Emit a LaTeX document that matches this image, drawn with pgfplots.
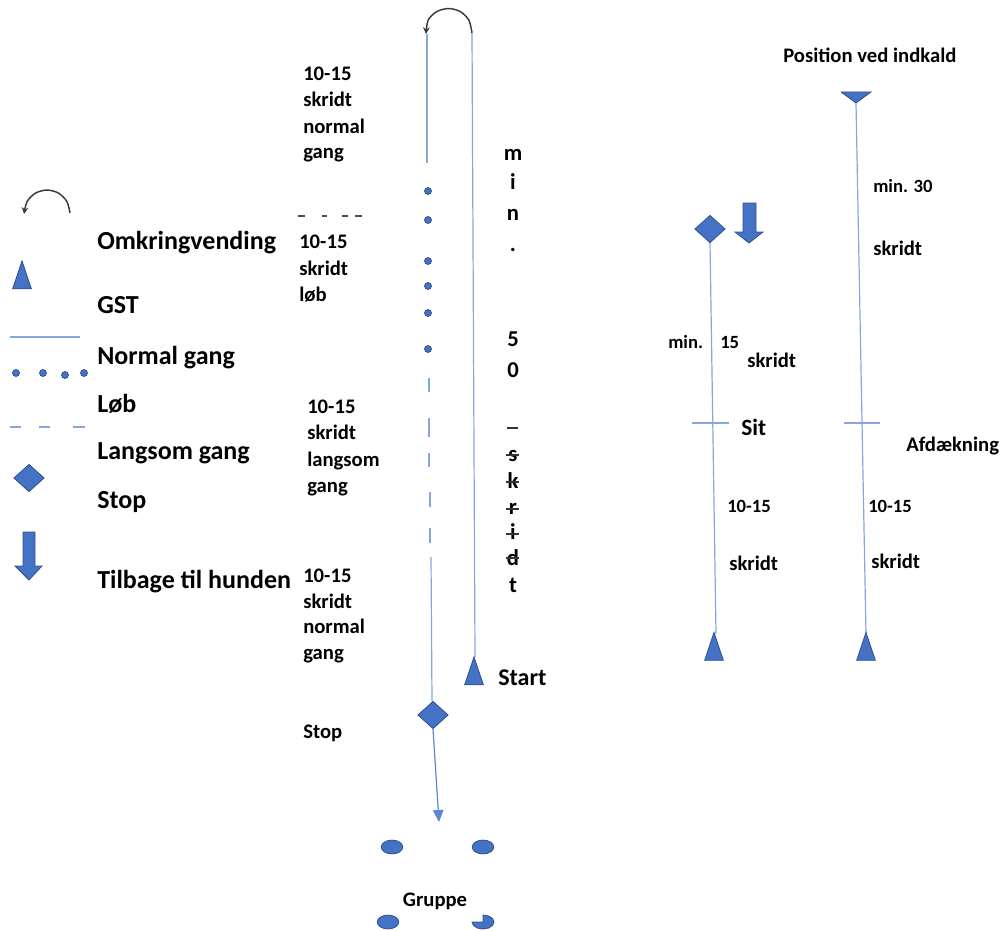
\documentclass[border=0pt]{standalone}
\usepackage{fontspec}
\setmainfont{Carlito}
\usepackage{pgfplots}
\pgfplotsset{compat=1.18}
\usetikzlibrary{arrows.meta}

\definecolor{shapefill}{HTML}{4472C4}
\definecolor{shapeedge}{HTML}{2F528F}
\definecolor{pathline}{HTML}{86A6DE}
\definecolor{arrowline}{HTML}{5B86D6}
\definecolor{turnline}{HTML}{3A3A3A}

\tikzset{
  big/.style={anchor=base west,inner sep=0pt,font=\bfseries\fontsize{19.5}{23}\selectfont},
  mid/.style={anchor=base west,inner sep=0pt,font=\bfseries\fontsize{15.5}{19}\selectfont},
  sml/.style={anchor=base west,inner sep=0pt,font=\bfseries\fontsize{14}{17}\selectfont},
  vert/.style={anchor=base,inner sep=0pt,font=\bfseries\fontsize{17}{20}\selectfont},
}
\pgfplotsset{
  gst/.style={only marks,mark=triangle*,mark size=8.1pt,
    mark options={yscale=1.72,fill=shapefill,draw=shapeedge,line width=0.6pt}},
  stopmark/.style={only marks,mark=square*,mark size=8pt,
    mark options={yscale=0.9,rotate=45,fill=shapefill,draw=shapeedge,line width=0.6pt}},
  runmark/.style={only marks,mark=*,mark size=2.6pt,
    mark options={fill=shapefill,draw=shapeedge,line width=0.6pt}},
  blob/.style={only marks,mark=*,mark size=5.2pt,
    mark options={xscale=1.55,fill=shapefill,draw=shapeedge,line width=0.6pt}},
  blockarrow/.style={fill=shapefill,draw=shapeedge,line width=0.6pt},
  walk/.style={color=pathline,line width=0.9pt},
}

\begin{document}
\begin{tikzpicture}
\begin{axis}[
  width=752.25pt, height=698.25pt, scale only axis,
  xmin=0, xmax=1003, ymin=0, ymax=931, y dir=reverse,
  hide axis, clip=false, unbounded coords=jump]

% keep the whole canvas in the bounding box
\addplot[draw=none] coordinates {(0,0) (1003,931)};

% ---------- legend ----------
\addplot[color=turnline,line width=1.1pt,smooth,-{Stealth[length=5pt,width=5pt]}] coordinates {
 (70,213) (66.9,201.5) (58.5,193.1) (47,190) (35.5,193.1) (27.1,201.5) (24,214)};
\node[big] at (axis cs:97,249) {Omkringvending};

\addplot[gst] coordinates {(22,279.5)};
\node[big] at (axis cs:97,313) {GST};

\addplot[walk] coordinates {(10,337) (80,337)};
\node[big] at (axis cs:97,364) {Normal gang};

\addplot[runmark] coordinates {(16,373) (43,373) (65,375) (84,373)};
\node[big] at (axis cs:97,412) {Løb};

\addplot[walk] coordinates {(10,427) (21,427) (nan,nan) (39,427) (50,427) (nan,nan) (73,427) (85,427)};
\node[big] at (axis cs:97,459) {Langsom gang};

\addplot[stopmark] coordinates {(29,478)};
\node[big] at (axis cs:97,508) {Stop};

\addplot[blockarrow] coordinates {(23,532) (35,532) (35,566) (42,566) (29,580) (15,566) (23,566) (23,532)};
\node[big] at (axis cs:97,588) {Tilbage til hunden};

% ---------- centre exercise ----------
\addplot[color=turnline,line width=1.1pt,smooth,-{Stealth[length=5pt,width=5pt]}] coordinates {
 (472,33) (468.9,20.2) (460.3,11.6) (448.5,8.5) (436.7,11.6) (428.1,20.2) (426,34)};
\addplot[walk] coordinates {(427,34) (427,163)};
\addplot[walk] coordinates {(472,33) (475,657)};
\addplot[runmark] coordinates {(428,191) (428,220) (428,261) (428,286) (428,313) (428,349)};
\addplot[walk,line width=0.8pt] coordinates {
 (429,378) (429,392) (nan,nan) (429,418) (429,437) (nan,nan) (429,453) (429,467)
 (nan,nan) (430,492) (430,507) (nan,nan) (430,528) (430,543)};
\addplot[walk] coordinates {(431,557) (432,701)};
\addplot[stopmark] coordinates {(433,715)};
\addplot[color=arrowline,line width=0.9pt,-{Triangle[length=9pt,width=8pt]}] coordinates {(433,729) (439,822)};
\addplot[gst] coordinates {(474,675.5)};
\addplot[blob] coordinates {(392,847) (483,847) (388,922)};
\addplot[fill=shapefill,draw=shapeedge,line width=0.6pt] coordinates {
 (483,922) (483,915) (488.5,915.9) (492.5,918.5) (494,922) (492.5,925.5)
 (488.5,928.1) (483,929) (477.5,928.1) (473.5,925.5) (472,922) (483,922)};

% clipped remains of a hidden label
\addplot[color=black!70,line width=0.8pt] coordinates {
 (298,216) (305,216) (nan,nan) (322,216) (327,216) (nan,nan) (342,216) (348,216) (nan,nan) (355,216) (362,216)};

\node[mid] at (axis cs:303,81) {10-15};
\node[mid] at (axis cs:303,107) {skridt};
\node[mid] at (axis cs:303,133) {normal};
\node[mid] at (axis cs:303,158) {gang};

\node[mid] at (axis cs:299,248) {10-15};
\node[mid] at (axis cs:299,275) {skridt};
\node[mid] at (axis cs:299,301) {løb};

\node[mid] at (axis cs:307,413) {10-15};
\node[mid] at (axis cs:307,439) {skridt};
\node[mid] at (axis cs:307,466) {langsom};
\node[mid] at (axis cs:307,492) {gang};

\node[mid] at (axis cs:303,582) {10-15};
\node[mid] at (axis cs:303,608) {skridt};
\node[mid] at (axis cs:303,633) {normal};
\node[mid] at (axis cs:303,659) {gang};

\node[mid] at (axis cs:303,738) {Stop};
\node[big,font=\bfseries\fontsize{18}{21}\selectfont] at (axis cs:498,685) {Start};
\node[mid,anchor=base] at (axis cs:435,906) {Gruppe};

\node[vert] at (axis cs:513,160) {m};
\node[vert] at (axis cs:513,189) {i};
\node[vert] at (axis cs:513,220) {n};
\node[vert] at (axis cs:513,251) {.};
\node[vert] at (axis cs:513,346) {5};
\node[vert] at (axis cs:513,377) {0};
\node[vert] at (axis cs:513,461) {s};
\node[vert] at (axis cs:513,488) {k};
\node[vert] at (axis cs:513,514) {r};
\node[vert] at (axis cs:513,539) {i};
\node[vert] at (axis cs:513,565) {d};
\node[vert] at (axis cs:513,592) {t};
\addplot[color=black!80,line width=0.8pt] coordinates {
 (507,428) (518,428) (nan,nan) (506,455) (519,455) (nan,nan) (506,482) (519,482)
 (nan,nan) (506,509) (519,509) (nan,nan) (506,534) (519,534) (nan,nan) (506,558) (519,558)};

% ---------- right exercises ----------
\addplot[fill=shapefill,draw=shapeedge,line width=0.6pt] coordinates {(841,92) (871,92) (856,103) (841,92)};
\addplot[walk] coordinates {(856,103) (866,634)};
\addplot[walk] coordinates {(844,423) (880,423)};
\addplot[gst] coordinates {(866,651)};

\addplot[walk] coordinates {(710,242) (716,634)};
\addplot[walk] coordinates {(692,423) (729,423)};
\addplot[stopmark] coordinates {(710,229)};
\addplot[blockarrow] coordinates {(743,203) (756,203) (756,232) (763,232) (749,243) (735,232) (743,232) (743,203)};
\addplot[gst] coordinates {(714,651)};

\node[mid] at (axis cs:783,63) {Position ved indkald};
\node[sml] at (axis cs:873,192) {min. 30};
\node[mid] at (axis cs:873,255) {skridt};
\node[sml] at (axis cs:668,348) {min.};
\node[sml] at (axis cs:720,348) {15};
\node[mid] at (axis cs:747,367) {skridt};
\node[big,font=\bfseries\fontsize{17.5}{21}\selectfont] at (axis cs:741,435) {Sit};
\node[mid] at (axis cs:906,451) {Afdækning};
\node[sml] at (axis cs:727,512) {10-15};
\node[mid] at (axis cs:729,570) {skridt};
\node[sml] at (axis cs:868,512) {10-15};
\node[mid] at (axis cs:871,568) {skridt};

\end{axis}
\end{tikzpicture}
\end{document}
